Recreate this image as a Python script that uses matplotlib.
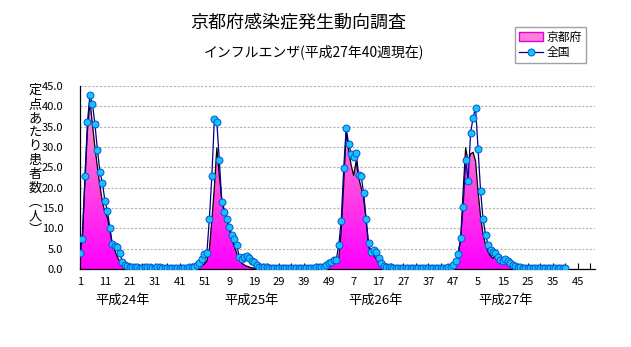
import numpy as np
import matplotlib.pyplot as plt
from matplotlib.colors import LinearSegmentedColormap
from matplotlib.patches import PathPatch, Patch
from matplotlib.lines import Line2D
from matplotlib.transforms import blended_transform_factory

plt.rcParams['font.family'] = ['Noto Sans CJK JP', 'DejaVu Sans']

# weekly values per sentinel (定点あたり), H24..H27
national_h24 = [3.9, 7.5, 22.9, 36.2, 42.8, 40.6, 35.6, 29.3, 23.9, 21.2,
                16.8, 14.3, 10.2, 6.1, 5.6, 5.3, 3.9, 1.8, 1.0, 0.7,
                0.6, 0.5, 0.4, 0.4, 0.3, 0.3, 0.4, 0.6, 0.4, 0.3,
                0.3, 0.4, 0.5, 0.3, 0.3, 0.3, 0.3, 0.3, 0.3, 0.3,
                0.3, 0.3, 0.3, 0.3, 0.4, 0.4, 0.6, 1.0, 1.5, 2.5,
                3.6, 4.0]
national_h25 = [12.4, 22.8, 36.8, 36.1, 26.8, 16.5, 14.1, 12.3, 10.4, 8.4,
                7.5, 5.9, 3.0, 2.4, 3.0, 3.3, 2.6, 2.0, 1.8, 1.0,
                0.6, 0.5, 0.4, 0.4, 0.3, 0.3, 0.3, 0.3, 0.3, 0.3,
                0.3, 0.3, 0.3, 0.3, 0.3, 0.3, 0.3, 0.3, 0.3, 0.3,
                0.3, 0.3, 0.3, 0.4, 0.4, 0.5, 0.6, 1.0, 1.4, 1.8,
                2.2, 2.3]
national_h26 = [5.8, 11.9, 24.9, 34.7, 30.7, 28.4, 27.5, 28.6, 23.1, 22.9,
                18.7, 12.3, 6.3, 4.1, 4.7, 4.2, 2.6, 1.4, 0.8, 0.6,
                0.5, 0.4, 0.3, 0.3, 0.3, 0.3, 0.3, 0.3, 0.3, 0.3,
                0.3, 0.3, 0.3, 0.3, 0.3, 0.3, 0.3, 0.3, 0.3, 0.3,
                0.3, 0.3, 0.3, 0.3, 0.4, 0.6, 1.0, 2.0, 3.7, 7.6,
                15.3, 26.8]
national_h27 = [21.7, 33.5, 37.2, 39.7, 29.4, 19.3, 12.3, 8.4, 6.0, 4.7,
                4.3, 3.9, 3.0, 2.2, 2.0, 2.4, 2.0, 1.5, 1.0, 0.7,
                0.5, 0.4, 0.3, 0.3, 0.3, 0.3, 0.3, 0.3, 0.3, 0.3,
                0.3, 0.3, 0.3, 0.3, 0.3, 0.3, 0.3, 0.3, 0.3, 0.3]

kyoto_h24 = [3.5, 9.0, 22.0, 34.0, 41.4, 35.5, 30.0, 25.0, 20.5, 16.5,
             14.0, 12.7, 9.5, 6.0, 4.5, 3.0, 1.8, 1.0, 0.5, 0.3,
             0.2, 0.1, 0.0, 0.0, 0.0, 0.0, 0.0, 0.0, 0.0, 0.0,
             0.0, 0.0, 0.0, 0.0, 0.0, 0.0, 0.0, 0.0, 0.0, 0.0,
             0.0, 0.0, 0.0, 0.0, 0.0, 0.1, 0.2, 0.3, 0.5, 0.8,
             1.2, 2.0]
kyoto_h25 = [5.0, 12.0, 20.0, 29.8, 23.0, 17.0, 14.5, 12.0, 10.0, 7.5,
             5.5, 3.9, 2.2, 1.4, 1.0, 0.7, 0.5, 0.3, 0.2, 0.1,
             0.0, 0.0, 0.0, 0.0, 0.0, 0.0, 0.0, 0.0, 0.0, 0.0,
             0.0, 0.0, 0.0, 0.0, 0.0, 0.0, 0.0, 0.0, 0.0, 0.0,
             0.0, 0.0, 0.0, 0.0, 0.0, 0.1, 0.2, 0.3, 0.5, 0.8,
             1.2, 1.5]
kyoto_h26 = [2.5, 9.5, 21.0, 34.0, 29.0, 25.5, 23.0, 26.5, 22.5, 20.0,
             17.5, 12.0, 5.5, 4.0, 3.5, 2.5, 1.5, 1.0, 0.6, 0.4,
             0.2, 0.1, 0.0, 0.0, 0.0, 0.0, 0.0, 0.0, 0.0, 0.0,
             0.0, 0.0, 0.0, 0.0, 0.0, 0.0, 0.0, 0.0, 0.0, 0.0,
             0.0, 0.0, 0.0, 0.1, 0.2, 0.4, 0.8, 1.5, 3.5, 7.5,
             19.0, 29.8]
kyoto_h27 = [26.4, 28.3, 28.7, 26.5, 19.0, 13.0, 8.5, 6.0, 4.2, 3.2,
             2.6, 3.4, 2.6, 1.8, 2.0, 1.4, 1.0, 0.7, 0.5, 0.4,
             0.3, 0.2, 0.1, 0.0, 0.0, 0.0, 0.0, 0.0, 0.0, 0.0,
             0.0, 0.0, 0.0, 0.0, 0.0, 0.0, 0.0, 0.0, 0.0, 0.0]

week_labels = ['1', '11', '21', '31', '41', '51', '9', '19', '29', '39', '49',
               '7', '17', '27', '37', '47', '5', '15', '25', '35', '45']
year_labels = ['平成24年', '平成25年', '平成26年', '平成27年']
year_label_x = [17, 69, 119, 171]
N_CATS = 208

national = national_h24 + national_h25 + national_h26 + national_h27
kyoto = kyoto_h24 + kyoto_h25 + kyoto_h26 + kyoto_h27
weeks = np.arange(len(national))

fig = plt.figure(figsize=(6.31, 3.47), dpi=100)
ax = fig.add_axes([80/631, 78/347, 515/631, 183/347])

# kyoto area with vertical gradient
fill = ax.fill_between(weeks, kyoto, 0, facecolor='none', edgecolor='none')
clip = PathPatch(fill.get_paths()[0], transform=ax.transData,
                 facecolor='none', edgecolor='none')
ax.add_patch(clip)
pink = LinearSegmentedColormap.from_list('pink', ['#ff00ff', '#ff50e0', '#ffa8d0'])
grad = np.linspace(0, 1, 256).reshape(-1, 1)
im = ax.imshow(grad, cmap=pink, origin='lower', aspect='auto',
               extent=(0, N_CATS - 1, 0, 45), zorder=2, interpolation='bilinear')
im.set_clip_path(clip)
ax.plot(weeks, kyoto, color='black', lw=0.9, zorder=3)

ax.plot(weeks, national, color='#000090', lw=0.9, marker='o', ms=5,
        mfc='#18c0ff', mec='#0058d0', mew=0.7, zorder=4)

ax.set_xlim(0, N_CATS - 1)
ax.set_ylim(0, 45)
ax.set_yticks(np.arange(0, 46, 5))
ax.set_yticklabels(['%.1f' % v for v in np.arange(0, 46, 5)])
ax.set_xticks(np.arange(0, 201, 10))
ax.set_xticklabels(week_labels)
ax.set_xticks(np.arange(5, N_CATS, 10), minor=True)
ax.tick_params(axis='x', which='both', direction='in', length=4, width=0.8,
               pad=6, labelsize=8)
ax.tick_params(axis='y', length=0, pad=12, labelsize=8)
ax.yaxis.grid(True, color='#b4b4b4', ls=(0, (2, 1.5)), lw=0.8)
ax.set_axisbelow(True)
for s in ['top', 'right']:
    ax.spines[s].set_visible(False)
ax.spines['left'].set_linewidth(0.9)
ax.spines['bottom'].set_linewidth(0.9)

tr = blended_transform_factory(ax.transData, ax.transAxes)
for x, lab in zip(year_label_x, year_labels):
    ax.text(x, -0.17, lab, transform=tr, ha='center', va='center', fontsize=9.5)

fig.text(298/631, 1 - 22/347, '京都府感染症発生動向調査', ha='center', va='center', fontsize=13)
fig.text(314/631, 1 - 52/347, 'インフルエンザ(平成27年40週現在)', ha='center', va='center', fontsize=10)
fig.text(35/631, 1 - 84/347, '\n'.join('定点あたり患者数︵人︶'), ha='center', va='top',
         fontsize=9.5, linespacing=1.1)

handles = [Patch(facecolor='#ff7fd4', edgecolor='#e000e0', lw=1.0),
           Line2D([], [], color='#000090', lw=0.9, marker='o', ms=5,
                  mfc='#18c0ff', mec='#0058d0', mew=0.7)]
fig.legend(handles, ['京都府', '全国'], loc='upper left',
           bbox_to_anchor=(515/631, 1 - 27/347), borderaxespad=0, fontsize=8.5,
           frameon=True, fancybox=False, edgecolor='#a0a0a0', framealpha=1,
           handlelength=2.1, handletextpad=0.3, borderpad=0.3, labelspacing=0.25)

fig.savefig('out.png', dpi=100)
